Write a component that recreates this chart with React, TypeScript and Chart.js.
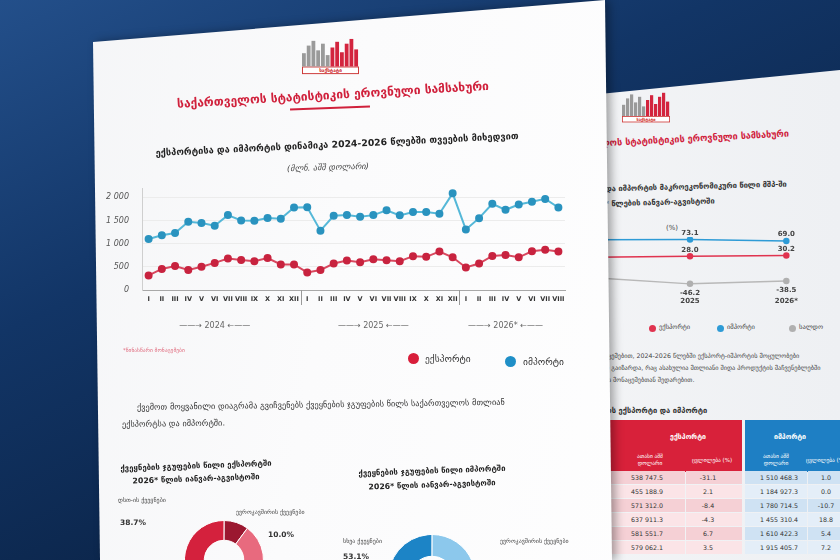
import React, { useEffect, useRef } from 'react';
import { Chart, registerables } from 'chart.js';

Chart.register(...registerables);

const FONT = "'DejaVu Sans', 'Noto Sans', sans-serif";

// ---------- main chart data ----------
const MONTH_LABELS = [
  'I', 'II', 'III', 'IV', 'V', 'VI', 'VII', 'VIII', 'IX', 'X', 'XI', 'XII',
  'I', 'II', 'III', 'IV', 'V', 'VI', 'VII', 'VIII', 'IX', 'X', 'XI', 'XII',
  'I', 'II', 'III', 'IV', 'V', 'VI', 'VII', 'VIII',
];
const YEARS = ['2024', '2025', '2026*'];
const MONTHS_PER_YEAR = [12, 12, 8];
const EXPORTS = [
  315, 455, 515, 430, 500, 585, 680, 645, 620, 690, 550, 550,
  380, 430, 570, 635, 600, 665, 640, 620, 730, 715, 830, 705,
  485, 570, 735, 755, 705, 835, 870, 830,
];
const IMPORTS = [
  1100, 1180, 1230, 1470, 1445, 1385, 1615, 1500, 1495, 1555, 1535, 1780,
  1785, 1280, 1600, 1620, 1580, 1615, 1720, 1610, 1680, 1680, 1645, 2085,
  1305, 1550, 1860, 1730, 1845, 1905, 1965, 1780,
];
const Y_TICKS = [0, 500, 1000, 1500, 2000];
const SERIES_NAMES = ['ექსპორტი', 'იმპორტი'];

// ---------- donut data ----------
const EXPORT_GROUPS = ['დსთ-ის ქვეყნები', 'ევროკავშირის ქვეყნები', 'სხვა ქვეყნები'];
const EXPORT_SHARES = [38.7, 10.0, 51.3];
const IMPORT_GROUPS = ['სხვა ქვეყნები', 'ევროკავშირის ქვეყნები', 'დსთ-ის ქვეყნები'];
const IMPORT_SHARES = [53.1, 18.9, 28.0];

// ---------- second page data ----------
const GDP_YEARS = ['2024', '2025', '2026*'];
const GDP_EXPORT_SHARE = [25.5, 28.0, 30.2];
const GDP_IMPORT_SHARE = [72.8, 73.1, 69.0];
const GDP_BALANCE = [-30.0, -46.2, -38.5];
const GDP_SERIES = ['ექსპორტი', 'იმპორტი', 'სალდო'];

const TABLE_EXPORT_VALUES = ['538 747.5', '455 188.9', '571 312.0', '637 911.3', '581 551.7', '579 062.1'];
const TABLE_EXPORT_CHANGE = ['-31.1', '2.1', '-8.4', '-4.3', '6.7', '3.5'];
const TABLE_IMPORT_VALUES = ['1 510 468.3', '1 184 927.3', '1 780 714.5', '1 455 310.4', '1 610 422.3', '1 915 405.7'];
const TABLE_IMPORT_CHANGE = ['1.0', '0.0', '-10.7', '18.8', '5.4', '7.2'];

// ---------- derived ----------
const YEAR_STARTS = MONTHS_PER_YEAR.map((_, i) => MONTHS_PER_YEAR.slice(0, i).reduce((a, b) => a + b, 0));
const YEAR_BOUNDS = YEAR_STARTS.slice(1);
const YEAR_ROW = MONTH_LABELS.map((_, idx) => {
  const k = YEAR_STARTS.findIndex((s, i) => idx === s + Math.floor((MONTHS_PER_YEAR[i] - 1) / 2));
  return k >= 0 ? `——→ ${YEARS[k]} ←——` : '';
});
const fmt = (v: number) => String(v).replace(/\B(?=(\d{3})+(?!\d))/g, ' ');

const RED = '#d0213c';
const BLUE = '#1f8fc7';

const yearSeparatorPlugin = {
  id: 'yearSeparators',
  afterDraw(chart: any) {
    const xs = chart.scales.x;
    const ctx = chart.ctx;
    const bottom = chart.chartArea.bottom;
    ctx.save();
    ctx.strokeStyle = '#9a9a9a';
    ctx.lineWidth = 1;
    YEAR_BOUNDS.forEach((b) => {
      const px = Math.round((xs.getPixelForValue(b - 1) + xs.getPixelForValue(b)) / 2) + 0.5;
      ctx.beginPath();
      ctx.moveTo(px, bottom);
      ctx.lineTo(px, bottom + 15);
      ctx.stroke();
    });
    ctx.restore();
  },
};

function MainChart() {
  const ref = useRef<HTMLCanvasElement>(null);
  useEffect(() => {
    const chart = new Chart(ref.current!, {
      type: 'line',
      data: {
        labels: MONTH_LABELS,
        datasets: [
          {
            label: SERIES_NAMES[0],
            data: EXPORTS,
            borderColor: '#d9485f',
            backgroundColor: '#c8233f',
            pointBackgroundColor: '#c8233f',
            pointBorderColor: '#c8233f',
            borderWidth: 2,
            pointRadius: 3,
            tension: 0,
          },
          {
            label: SERIES_NAMES[1],
            data: IMPORTS,
            borderColor: '#55b8d8',
            backgroundColor: '#2a93bf',
            pointBackgroundColor: '#2a93bf',
            pointBorderColor: '#2a93bf',
            borderWidth: 2,
            pointRadius: 3,
            tension: 0,
          },
        ],
      },
      options: {
        animation: false,
        responsive: false,
        maintainAspectRatio: false,
        layout: { padding: { left: 6, right: 15, top: 10, bottom: 6 } },
        plugins: { legend: { display: false }, tooltip: { enabled: false } },
        scales: {
          x: {
            type: 'category',
            offset: true,
            grid: { display: true, drawOnChartArea: false, drawTicks: false, color: 'rgba(0,0,0,0)' },
            border: { display: true, color: '#a8a8a8' },
            ticks: {
              autoSkip: false,
              maxRotation: 0,
              minRotation: 0,
              padding: 5,
              color: '#333',
              font: { size: 6.5, family: FONT, weight: 'bold' },
            },
            afterFit: (s: any) => {
              s.height = 14;
              s.paddingLeft = 0;
              s.paddingRight = 0;
            },
          },
          x2: {
            type: 'category',
            labels: YEAR_ROW,
            position: 'bottom',
            offset: true,
            grid: { display: false, drawTicks: false },
            border: { display: false },
            ticks: {
              autoSkip: false,
              maxRotation: 0,
              minRotation: 0,
              padding: 17,
              color: '#666',
              font: { size: 8, family: FONT },
            },
            afterFit: (s: any) => {
              s.height = 28;
              s.paddingLeft = 0;
              s.paddingRight = 0;
            },
          },
          y: {
            min: 0,
            max: 2200,
            afterBuildTicks: (s: any) => {
              s.ticks = Y_TICKS.map((v) => ({ value: v }));
            },
            grid: { color: '#ececec', drawTicks: false },
            border: { display: true, color: '#cfcfcf' },
            ticks: {
              padding: 13,
              color: '#555',
              font: { size: 8, family: FONT, style: 'italic' },
              callback: (v: any) => fmt(Number(v)),
            },
            afterFit: (s: any) => {
              s.width = 36;
              s.paddingTop = 0;
              s.paddingBottom = 0;
            },
          },
        },
      } as any,
      plugins: [yearSeparatorPlugin],
    });
    return () => chart.destroy();
  }, []);
  return (
    <canvas
      ref={ref}
      width={480}
      height={160}
      style={{ position: 'absolute', left: 100, top: 178, width: 480, height: 160 }}
    />
  );
}

function Donut(props: { values: number[]; labels: string[]; colors: string[]; rotation: number; left: number; top: number; size: number }) {
  const ref = useRef<HTMLCanvasElement>(null);
  useEffect(() => {
    const chart = new Chart(ref.current!, {
      type: 'doughnut',
      data: {
        labels: props.labels,
        datasets: [{ data: props.values, backgroundColor: props.colors, borderColor: '#ffffff', borderWidth: 1 }],
      },
      options: {
        animation: false,
        responsive: false,
        maintainAspectRatio: false,
        cutout: '50%',
        rotation: props.rotation,
        layout: { padding: 0 },
        plugins: { legend: { display: false }, tooltip: { enabled: false } },
      } as any,
    });
    return () => chart.destroy();
  }, []);
  return (
    <canvas
      ref={ref}
      width={props.size}
      height={props.size}
      style={{ position: 'absolute', left: props.left, top: props.top, width: props.size, height: props.size }}
    />
  );
}

const pointLabelPlugin = {
  id: 'pointLabels',
  afterDatasetsDraw(chart: any) {
    const ctx = chart.ctx;
    ctx.save();
    ctx.font = `bold 7px ${FONT}`;
    ctx.fillStyle = '#444';
    ctx.textAlign = 'center';
    chart.data.datasets.forEach((ds: any, di: number) => {
      const meta = chart.getDatasetMeta(di);
      meta.data.forEach((pt: any, i: number) => {
        const v = ds.data[i];
        const below = v < 0;
        ctx.textBaseline = below ? 'top' : 'bottom';
        ctx.fillText(v.toFixed(1), pt.x, below ? pt.y + 6 : pt.y - 3);
      });
    });
    ctx.restore();
  },
};

function GdpChart() {
  const ref = useRef<HTMLCanvasElement>(null);
  useEffect(() => {
    const chart = new Chart(ref.current!, {
      type: 'line',
      data: {
        labels: GDP_YEARS,
        datasets: [
          { label: GDP_SERIES[0], data: GDP_EXPORT_SHARE, borderColor: '#e0334f', pointBackgroundColor: '#e0334f', pointBorderColor: '#e0334f', borderWidth: 1.5, pointRadius: 2.5 },
          { label: GDP_SERIES[1], data: GDP_IMPORT_SHARE, borderColor: '#2e9bd6', pointBackgroundColor: '#2e9bd6', pointBorderColor: '#2e9bd6', borderWidth: 1.5, pointRadius: 2.5 },
          { label: GDP_SERIES[2], data: GDP_BALANCE, borderColor: '#b8b8b8', pointBackgroundColor: '#b0b0b0', pointBorderColor: '#b0b0b0', borderWidth: 1.5, pointRadius: 2.5 },
        ],
      },
      options: {
        animation: false,
        responsive: false,
        maintainAspectRatio: false,
        layout: { padding: { left: 0, right: 0, top: 15, bottom: 2 } },
        plugins: { legend: { display: false }, tooltip: { enabled: false } },
        scales: {
          x: {
            offset: true,
            grid: { display: false, drawTicks: false },
            border: { display: false },
            ticks: { padding: 8, color: '#444', font: { size: 7, family: FONT, weight: 'bold' } },
            afterFit: (s: any) => {
              s.height = 16;
              s.paddingLeft = 0;
              s.paddingRight = 0;
            },
          },
          y: { display: false, min: -60, max: 80 },
        },
      } as any,
      plugins: [pointLabelPlugin],
    });
    return () => chart.destroy();
  }, []);
  return (
    <canvas ref={ref} width={300} height={85} style={{ position: 'absolute', left: 540, top: 222, width: 300, height: 85 }} />
  );
}

function T(props: { x: number; y: number; rot?: number; style?: React.CSSProperties; children: React.ReactNode; align?: 'center' | 'left' }) {
  const tx = props.align === 'left' ? '0' : '-50%';
  return (
    <div
      style={{
        position: 'absolute',
        left: props.x,
        top: props.y,
        transform: `translate(${tx},-50%) rotate(${props.rot || 0}deg)`,
        transformOrigin: props.align === 'left' ? 'left center' : 'center center',
        whiteSpace: 'nowrap',
        fontFamily: FONT,
        lineHeight: 1.2,
        ...props.style,
      }}
    >
      {props.children}
    </div>
  );
}

function Dot(props: { x: number; y: number; d: number; color: string }) {
  return (
    <div
      style={{
        position: 'absolute',
        left: props.x - props.d / 2,
        top: props.y - props.d / 2,
        width: props.d,
        height: props.d,
        borderRadius: '50%',
        background: props.color,
      }}
    />
  );
}

function Logo(props: { left: number; top: number; scale: number }) {
  const gray = [14, 22, 27, 17, 24, 12];
  const red = [20, 26, 15, 24, 29, 18];
  return (
    <div style={{ position: 'absolute', left: props.left, top: props.top, transform: `scale(${props.scale})`, transformOrigin: 'left top', width: 60 }}>
      <div style={{ display: 'flex', alignItems: 'flex-end', height: 30, gap: 1 }}>
        {gray.map((h, i) => (
          <div key={'g' + i} style={{ width: 4, height: h, background: '#9a9a9a' }} />
        ))}
        {red.map((h, i) => (
          <div key={'r' + i} style={{ width: 4, height: h, background: '#d3243e' }} />
        ))}
      </div>
      <div style={{ width: 60, height: 8, border: '1px solid #c33', boxSizing: 'border-box', fontFamily: FONT, fontSize: 5, lineHeight: '6px', textAlign: 'center', color: '#c22', fontWeight: 'bold', background: '#fff' }}>
        საქსტატი
      </div>
    </div>
  );
}

function SecondPage() {
  const rowY = [478, 492, 506, 520, 534, 548];
  return (
    <div
      style={{
        position: 'absolute',
        inset: 0,
        background: 'linear-gradient(90deg, #e9ebee 0%, #f4f5f7 60%, #eef0f3 100%)',
        clipPath: 'polygon(560px 98px, 840px 70px, 840px 560px, 560px 560px)',
      }}
    >
      <Logo left={622} top={92} scale={0.8} />
      <T x={672} y={140} rot={-3} style={{ fontSize: 9, fontWeight: 'bold', color: RED }}>
        საქართველოს სტატისტიკის ეროვნული სამსახური
      </T>
      <T x={560} y={190} align="left" rot={-1.5} style={{ fontSize: 7.5, fontWeight: 'bold', color: '#333' }}>
        ექსპორტის და იმპორტის მაკროეკონომიკური წილი მშპ-ში
      </T>
      <T x={560} y={205} align="left" rot={-1.5} style={{ fontSize: 7.5, fontWeight: 'bold', color: '#333' }}>
        2025-2026* წლების იანვარ-აგვისტოში
      </T>
      <T x={672} y={228} style={{ fontSize: 7, color: '#444' }}>(%)</T>
      <GdpChart />
      <Dot x={652} y={328} d={7} color="#e0334f" />
      <T x={659} y={328} align="left" style={{ fontSize: 6.5, color: '#444' }}>{GDP_SERIES[0]}</T>
      <Dot x={720} y={328} d={7} color="#2e9bd6" />
      <T x={727} y={328} align="left" style={{ fontSize: 6.5, color: '#444' }}>{GDP_SERIES[1]}</T>
      <Dot x={792} y={328} d={7} color="#b0b0b0" />
      <T x={799} y={328} align="left" style={{ fontSize: 6.5, color: '#444' }}>{GDP_SERIES[2]}</T>
      <T x={560} y={356} align="left" style={{ fontSize: 6.3, color: '#444' }}>
        საქსტატის მონაცემებით, 2024-2026 წლებში ექსპორტ-იმპორტის მოცულობები
      </T>
      <T x={560} y={368} align="left" style={{ fontSize: 6.3, color: '#444' }}>
        მნიშვნელოვნად გაიზარდა, რაც ასახულია მთლიანი შიდა პროდუქტის მაჩვენებლებში
      </T>
      <T x={560} y={380} align="left" style={{ fontSize: 6.3, color: '#444' }}>
        შესაბამისი წლის მონაცემებთან შედარებით.
      </T>
      <T x={560} y={410} align="left" style={{ fontSize: 7.5, fontWeight: 'bold', color: '#333' }}>
        საქართველოს ექსპორტი და იმპორტი
      </T>
      <div style={{ position: 'absolute', left: 560, top: 420, width: 182, height: 52, background: '#d8213a' }} />
      <div style={{ position: 'absolute', left: 745, top: 420, width: 100, height: 52, background: '#1e7fc4' }} />
      <T x={688} y={437} style={{ fontSize: 7, fontWeight: 'bold', color: '#fff' }}>ექსპორტი</T>
      <T x={790} y={437} style={{ fontSize: 7, fontWeight: 'bold', color: '#fff' }}>იმპორტი</T>
      <T x={650} y={460} style={{ fontSize: 5.5, color: '#fff', textAlign: 'center' }}>ათასი აშშ<br />დოლარი</T>
      <T x={712} y={460} style={{ fontSize: 5.5, color: '#fff' }}>ცვლილება (%)</T>
      <T x={776} y={460} style={{ fontSize: 5.5, color: '#fff', textAlign: 'center' }}>ათასი აშშ<br />დოლარი</T>
      <T x={826} y={460} style={{ fontSize: 5.5, color: '#fff' }}>ცვლილება (%)</T>
      {rowY.map((y, i) => (
        <React.Fragment key={i}>
          <div style={{ position: 'absolute', left: 560, top: y - 7, width: 125, height: 13, background: i % 2 ? '#fbe4e7' : '#f5d0d5' }} />
          <div style={{ position: 'absolute', left: 686, top: y - 7, width: 56, height: 13, background: i % 2 ? '#fbe4e7' : '#f5d0d5' }} />
          <div style={{ position: 'absolute', left: 745, top: y - 7, width: 62, height: 13, background: i % 2 ? '#e4eef8' : '#cfe2f3' }} />
          <div style={{ position: 'absolute', left: 808, top: y - 7, width: 40, height: 13, background: i % 2 ? '#e4eef8' : '#cfe2f3' }} />
          <T x={647} y={y} style={{ fontSize: 6.3, color: '#333' }}>{TABLE_EXPORT_VALUES[i]}</T>
          <T x={708} y={y} style={{ fontSize: 6.3, color: '#333' }}>{TABLE_EXPORT_CHANGE[i]}</T>
          <T x={779} y={y} style={{ fontSize: 6.3, color: '#333' }}>{TABLE_IMPORT_VALUES[i]}</T>
          <T x={826} y={y} style={{ fontSize: 6.3, color: '#333' }}>{TABLE_IMPORT_CHANGE[i]}</T>
        </React.Fragment>
      ))}
    </div>
  );
}

function MainPage() {
  return (
    <div style={{ position: 'absolute', inset: 0, filter: 'drop-shadow(4px 0px 5px rgba(0,0,0,0.35))' }}>
      <div
        style={{
          position: 'absolute',
          inset: 0,
          background: 'linear-gradient(100deg, #f3f4f6 0%, #fbfbfc 40%, #ffffff 100%)',
          clipPath: 'polygon(93px 42px, 605px 0px, 612px 560px, 100px 560px)',
        }}
      >
        <Logo left={302} top={38} scale={0.95} />
        <T x={333} y={95} rot={-3.3} style={{ fontSize: 12, fontWeight: 'bold', color: RED }}>
          საქართველოს სტატისტიკის ეროვნული სამსახური
        </T>
        <div style={{ position: 'absolute', left: 290, top: 107, width: 80, height: 2, background: RED, transform: 'rotate(-2deg)' }} />
        <T x={337} y={144} rot={-2.7} style={{ fontSize: 9.3, fontWeight: 'bold', color: '#222' }}>
          ექსპორტისა და იმპორტის დინამიკა 2024-2026 წლებში თვეების მიხედვით
        </T>
        <T x={328} y={168} rot={-1.8} style={{ fontSize: 8.3, fontStyle: 'italic', color: '#444' }}>
          (მლნ. აშშ დოლარი)
        </T>
        <MainChart />
        <T x={123} y={350} align="left" style={{ fontSize: 5.5, color: '#e06a7d' }}>
          *წინასწარი მონაცემები
        </T>
        <Dot x={413} y={358} d={11} color="#d81e3a" />
        <T x={425} y={359} align="left" style={{ fontSize: 9.5, color: '#333' }}>{SERIES_NAMES[0]}</T>
        <Dot x={510} y={361} d={11} color={BLUE} />
        <T x={523} y={362} align="left" style={{ fontSize: 9.5, color: '#333' }}>{SERIES_NAMES[1]}</T>
        <T x={137} y={408} align="left" rot={-0.8} style={{ fontSize: 8.3, color: '#333' }}>
          ქვემოთ მოყვანილი დიაგრამა გვიჩვენებს ქვეყნების ჯგუფების წილს საქართველოს მთლიან
        </T>
        <T x={122} y={425} align="left" rot={-0.8} style={{ fontSize: 8.3, color: '#333' }}>
          ექსპორტსა და იმპორტში.
        </T>
        <T x={196} y={466} rot={-2} style={{ fontSize: 7.8, fontWeight: 'bold', color: '#222' }}>
          ქვეყნების ჯგუფების წილი ექსპორტში
        </T>
        <T x={196} y={479} rot={-2} style={{ fontSize: 7.8, fontWeight: 'bold', color: '#222' }}>
          2026* წლის იანვარ-აგვისტოში
        </T>
        <T x={432} y={471} rot={-2} style={{ fontSize: 7.8, fontWeight: 'bold', color: '#222' }}>
          ქვეყნების ჯგუფების წილი იმპორტში
        </T>
        <T x={432} y={485} rot={-2} style={{ fontSize: 7.8, fontWeight: 'bold', color: '#222' }}>
          2026* წლის იანვარ-აგვისტოში
        </T>
        <Donut values={EXPORT_SHARES} labels={EXPORT_GROUPS} colors={['#d4213d', '#9b1830', '#e86a7e']} rotation={-139} left={184} top={520} size={80} />
        <Donut values={IMPORT_SHARES} labels={IMPORT_GROUPS} colors={['#1c84c6', '#8cc8ec', '#0f5a93']} rotation={-191} left={388} top={534} size={88} />
        <T x={118} y={500} align="left" style={{ fontSize: 6, color: '#444' }}>{EXPORT_GROUPS[0]}</T>
        <T x={120} y={522} align="left" style={{ fontSize: 7.5, fontWeight: 'bold', color: '#333' }}>{EXPORT_SHARES[0].toFixed(1)}%</T>
        <T x={236} y={512} align="left" style={{ fontSize: 6, color: '#444' }}>{EXPORT_GROUPS[1]}</T>
        <T x={268} y={534} align="left" style={{ fontSize: 7.5, fontWeight: 'bold', color: '#333' }}>{EXPORT_SHARES[1].toFixed(1)}%</T>
        <T x={343} y={541} align="left" style={{ fontSize: 6, color: '#444' }}>{IMPORT_GROUPS[0]}</T>
        <T x={343} y={556} align="left" style={{ fontSize: 7.5, fontWeight: 'bold', color: '#333' }}>{IMPORT_SHARES[0].toFixed(1)}%</T>
        <T x={500} y={541} align="left" style={{ fontSize: 6, color: '#444' }}>{IMPORT_GROUPS[1]}</T>
      </div>
    </div>
  );
}

export default function App() {
  return (
    <div
      style={{
        position: 'fixed',
        left: 0,
        top: 0,
        width: 840,
        height: 560,
        overflow: 'hidden',
        background: 'linear-gradient(155deg, #234f8a 0%, #123566 35%, #0b2448 70%, #0a1f40 100%)',
      }}
    >
      <SecondPage />
      <MainPage />
    </div>
  );
}
